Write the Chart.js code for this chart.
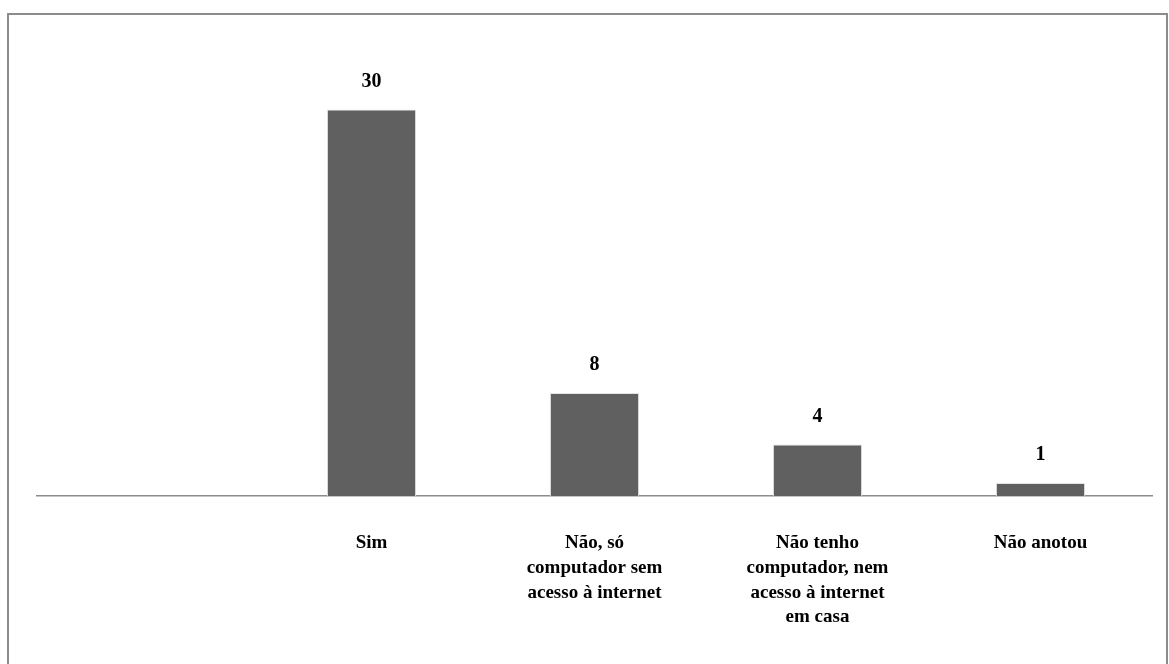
<!DOCTYPE html>
<html>
<head>
<meta charset="utf-8">
<script src="https://cdn.jsdelivr.net/npm/chart.js@4"></script>
<style>
  html, body { margin: 0; padding: 0; background: #fff; overflow: hidden; }
  #frame { position: absolute; left: 7px; top: 13px; width: 1157px; height: 700px; border: 2px solid #8c8c8c; }
  #wrap { position: absolute; left: 0; top: 0; width: 1169px; height: 664px; }
</style>
</head>
<body>
<div id="frame"></div>
<div id="wrap"><canvas id="grafico"></canvas></div>
<script>
const categorias = ['', 'Sim', ['Não, só', 'computador sem', 'acesso à internet'], ['Não tenho', 'computador, nem', 'acesso à internet', 'em casa'], 'Não anotou'];
const valores = [null, 30, 8, 4, 1];

const rotulos = {
    id: 'rotulos',
    afterDatasetsDraw(chart) {
        const ctx = chart.ctx;
        const meta = chart.getDatasetMeta(0);
        ctx.save();
        ctx.font = 'bold 20px "Liberation Serif", "Times New Roman", serif';
        ctx.fillStyle = '#000';
        ctx.textAlign = 'center';
        ctx.textBaseline = 'middle';
        meta.data.forEach((bar, i) => {
            if (valores[i] == null) return;
            ctx.fillText(String(valores[i]), bar.x, bar.y - 28);
        });
        ctx.restore();
    }
};

document.addEventListener('DOMContentLoaded', function () {
    const ctx = document.getElementById('grafico').getContext('2d');
    new Chart(ctx, {
        type: 'bar',
        data: {
            labels: categorias,
            datasets: [{
                data: valores,
                backgroundColor: '#606060',
                borderColor: '#e4e4e4',
                borderWidth: { left: 1, right: 1, top: 1, bottom: 0 },
                barPercentage: 0.4,
                categoryPercentage: 1
            }]
        },
        options: {
            responsive: true,
            maintainAspectRatio: false,
            animation: false,
            layout: { padding: { left: 37, right: 17, top: 58, bottom: 0 } },
            plugins: { legend: { display: false }, tooltip: { enabled: false } },
            scales: {
                x: {
                    grid: { display: false, drawTicks: false },
                    border: { color: '#8c8c8c', width: 1.5 },
                    ticks: {
                        padding: 35,
                        color: '#000',
                        maxRotation: 0,
                        autoSkip: false,
                        font: { family: '"Liberation Serif", "Times New Roman", serif', size: 19, weight: 'bold', lineHeight: 1.3 }
                    },
                    afterFit(scale) { scale.height = 168; }
                },
                y: {
                    display: false,
                    min: 0,
                    max: 34
                }
            }
        },
        plugins: [rotulos]
    });
});
</script>
</body>
</html>
